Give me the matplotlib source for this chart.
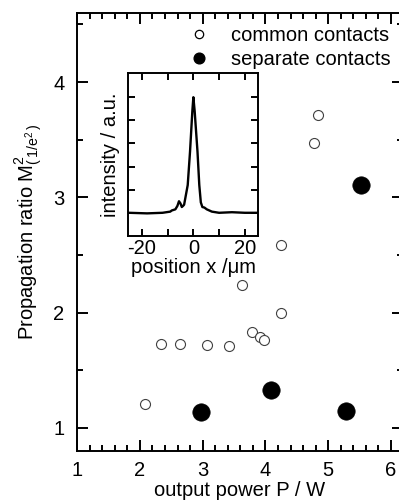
import numpy as np
import matplotlib
matplotlib.use("Agg")
import matplotlib.pyplot as plt
from matplotlib.lines import Line2D
from matplotlib.ticker import MultipleLocator, FixedLocator, FuncFormatter

# ###########################################################
# Global parameters and data
# ###########################################################

plt.rcParams["font.family"] = ["Liberation Sans", "DejaVu Sans"]
plt.rcParams["mathtext.fontset"] = "custom"
plt.rcParams["mathtext.rm"] = "Liberation Sans"
plt.rcParams["mathtext.it"] = "Liberation Sans:italic"
plt.rcParams["font.size"] = 14.5

# common contacts (open circles)
common_p = [2.08, 2.34, 2.64, 3.07, 3.42, 3.63, 3.79, 3.91, 3.97, 4.25, 4.25, 4.77, 4.84]
common_m2 = [1.21, 1.73, 1.73, 1.72, 1.71, 2.24, 1.83, 1.79, 1.76, 2.00, 2.59, 3.47, 3.71]

# separate contacts (filled circles)
separate_p = [2.98, 4.09, 5.28, 5.52]
separate_m2 = [1.14, 1.33, 1.15, 3.11]

# inset: near-field intensity profile
pos_x = [-25, -18, -12, -9, -8.4, -7.0, -6.2, -5.6, -5.0, -4.5, -4.0, -3.6, -2.2, -1.3, -0.4, 0.0,
         0.5, 1.6, 2.3, 2.9, 3.5, 4.3, 5.2, 7.2, 10, 15, 20, 25]
intensity = [0.0, -0.005, 0.0, 0.01, 0.02, 0.03, 0.06, 0.10, 0.08, 0.05, 0.06, 0.07, 0.24, 0.53, 0.88, 1.0,
             0.88, 0.53, 0.24, 0.09, 0.05, 0.045, 0.03, 0.01, 0.0, 0.005, 0.0, 0.0]

# ###########################################################
# Main plot
# ###########################################################

fig = plt.figure(figsize=(3.99, 5.03), dpi=100)
ax = fig.add_axes([0.193, 0.1034, 0.817, 0.871])

ax.plot(common_p, common_m2, "o", ms=7.2, mfc="white", mec="#404040", mew=0.8)
ax.plot(separate_p, separate_m2, "o", ms=12.5, mfc="black", mec="black", mew=0.5)

ax.set_xlim(1.0, 6.19)
ax.set_ylim(0.8, 4.6)
ax.xaxis.set_major_locator(MultipleLocator(1))
ax.xaxis.set_minor_locator(MultipleLocator(0.2))
ax.yaxis.set_major_locator(MultipleLocator(1))
ax.yaxis.set_minor_locator(MultipleLocator(0.5))
ax.tick_params(which="both", direction="in", top=True, right=True, width=1.4)
ax.tick_params(which="major", length=8, pad=7)
ax.tick_params(which="minor", length=4.3)
ax.tick_params(axis="y", which="major", pad=9)
for sp in ax.spines.values():
    sp.set_linewidth(1.4)

ax.set_xlabel("output power P / W", labelpad=1)
ax.set_ylabel(r"Propagation ratio M$^{2}_{\mathregular{(\,1/e^2\,)}}$", labelpad=6)

# legend
handles = [
    Line2D([], [], ls="none", marker="o", ms=6, mfc="white", mec="black", mew=0.9),
    Line2D([], [], ls="none", marker="o", ms=7.7, mfc="black", mec="black"),
]
ax.legend(handles, ["common contacts", "separate contacts"], loc="upper left",
          bbox_to_anchor=(0.342, 0.971), frameon=False, borderpad=0, borderaxespad=0,
          handlelength=1.0, handletextpad=1.09, labelspacing=0.27)

# ###########################################################
# Inset
# ###########################################################

ins = fig.add_axes([0.321, 0.531, 0.326, 0.324])
ins.plot(pos_x, intensity, color="black", lw=1.7)
ins.set_xlim(-25.4, 25.2)
ins.set_ylim(-0.2, 1.21)
ins.xaxis.set_major_locator(MultipleLocator(10))
ins.xaxis.set_major_formatter(FuncFormatter(lambda v, p: f"{v:.0f}" if int(round(v)) % 20 == 0 else ""))
ins.yaxis.set_major_locator(FixedLocator([0, 0.2, 0.4, 0.6, 0.8, 1.0]))
ins.set_yticklabels([])
ins.tick_params(direction="in", top=True, right=True, length=5, width=1.4, pad=2)
for sp in ins.spines.values():
    sp.set_linewidth(1.4)
ins.set_xlabel("position x /\u03bcm", labelpad=0)
ins.set_ylabel("intensity / a.u.", labelpad=4)

fig.savefig("out.png", dpi=100)
